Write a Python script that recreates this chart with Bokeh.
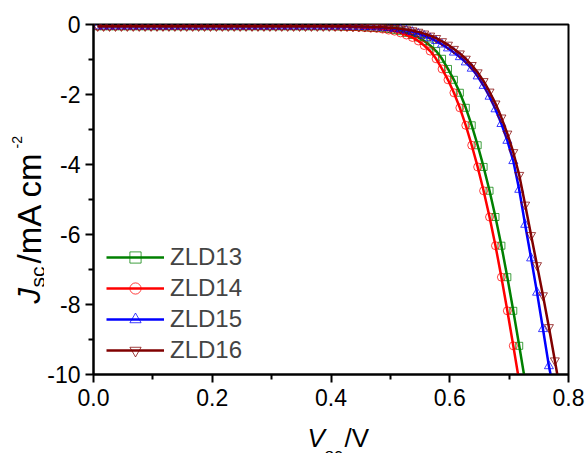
from math import pi
from bokeh.plotting import figure
from bokeh.layouts import column, row
from bokeh.models import Range1d, FixedTicker, Label, Legend, LegendItem
from bokeh.embed import file_html
from bokeh.resources import INLINE

# ---------------- data ----------------
voltage = [0.007, 0.017, 0.027, 0.037, 0.047, 0.057, 0.067, 0.077, 0.087, 0.097,
           0.107, 0.117, 0.127, 0.137, 0.147, 0.157, 0.167, 0.177, 0.187, 0.197,
           0.207, 0.217, 0.227, 0.237, 0.247, 0.257, 0.267, 0.277, 0.287, 0.297,
           0.307, 0.317, 0.327, 0.337, 0.347, 0.357, 0.367, 0.377, 0.387, 0.397,
           0.407, 0.417, 0.427, 0.437, 0.447, 0.457, 0.467, 0.477, 0.487, 0.497,
           0.507, 0.517, 0.527, 0.537, 0.547, 0.557, 0.567, 0.577, 0.587, 0.597,
           0.607, 0.617, 0.627, 0.637, 0.647, 0.657, 0.667, 0.677, 0.687, 0.697,
           0.707, 0.717, 0.727, 0.737, 0.747, 0.757, 0.767, 0.777, 0.787]

series_names = ["ZLD13", "ZLD14", "ZLD15", "ZLD16"]

flat = [-0.05] * 39

j_zld14 = flat + [-0.05, -0.06, -0.06, -0.07, -0.07, -0.08, -0.09, -0.10, -0.11,
                  -0.13, -0.16, -0.19, -0.24, -0.30, -0.37, -0.47, -0.60, -0.76,
                  -0.98, -1.27, -1.58, -1.95, -2.38, -2.88, -3.45, -4.07, -4.75,
                  -5.50, -6.32, -7.22, -8.18, -9.18, -10.20]

j_zld13 = flat + [-0.05, -0.05, -0.06, -0.06, -0.07, -0.07, -0.08, -0.09, -0.10,
                  -0.11, -0.13, -0.16, -0.19, -0.24, -0.30, -0.37, -0.47, -0.60,
                  -0.76, -0.98, -1.27, -1.58, -1.95, -2.38, -2.88, -3.45, -4.07,
                  -4.75, -5.50, -6.32, -7.22, -8.18, -9.18, -10.20]

j_zld15 = flat + [-0.05, -0.05, -0.05, -0.06, -0.06, -0.06, -0.07, -0.07, -0.08,
                  -0.09, -0.10, -0.12, -0.14, -0.17, -0.21, -0.26, -0.32, -0.39,
                  -0.47, -0.57, -0.68, -0.80, -0.93, -1.08, -1.26, -1.48, -1.75,
                  -2.06, -2.42, -2.84, -3.32, -3.90, -4.72, -5.72, -6.68, -7.66,
                  -8.70, -9.76, -10.60]

j_zld16 = flat + [-0.05, -0.05, -0.05, -0.05, -0.06, -0.06, -0.06, -0.07, -0.07,
                  -0.08, -0.09, -0.10, -0.12, -0.14, -0.17, -0.21, -0.26, -0.32,
                  -0.39, -0.48, -0.58, -0.70, -0.83, -0.98, -1.16, -1.37, -1.62,
                  -1.92, -2.26, -2.66, -3.12, -3.65, -4.30, -5.15, -6.02, -6.88,
                  -7.74, -8.65, -9.60, -10.56]

x_ticks = [0.0, 0.2, 0.4, 0.6, 0.8]
x_tick_labels = ["0.0", "0.2", "0.4", "0.6", "0.8"]
x_minor = [0.1, 0.3, 0.5, 0.7]
y_ticks = [0, -2, -4, -6, -8, -10]
y_tick_labels = ["0", "-2", "-4", "-6", "-8", "-10"]
y_minor = [-1, -3, -5, -7, -9]

# ---------------- styling ----------------
FONT = "Liberation Sans"
series_j = [j_zld13, j_zld14, j_zld15, j_zld16]
line_colors = ["#008000", "#ff0000", "#0000ff", "#800000"]
markers = ["square", "circle", "triangle", "inverted_triangle"]
marker_sizes = [7, 8, 9, 9]

YLAB_W = 44
MAIN_W = 587 - YLAB_W
MAIN_H = 415
XLAB_H = 453 - MAIN_H

p = figure(width=MAIN_W, height=MAIN_H, output_backend="svg", toolbar_location=None,
           x_range=Range1d(0, 0.8), y_range=Range1d(-10, 0),
           min_border_left=49, min_border_right=19, min_border_top=24,
           min_border_bottom=41)
p.title.visible = False
p.background_fill_color = "white"
p.border_fill_color = "white"
p.xgrid.visible = False
p.ygrid.visible = False
p.outline_line_color = "black"
p.outline_line_width = 2

for ax, ticks, minor, labels, standoff in [
        (p.xaxis[0], x_ticks, x_minor, x_tick_labels, 6),
        (p.yaxis[0], y_ticks, y_minor, y_tick_labels, 5)]:
    ax.ticker = FixedTicker(ticks=ticks, minor_ticks=minor)
    ax.major_label_overrides = {t: l for t, l in zip(ticks, labels)}
    ax.axis_line_width = 2
    ax.axis_line_color = "black"
    ax.major_tick_line_width = 2
    ax.minor_tick_line_width = 2
    ax.major_tick_in = 0
    ax.major_tick_out = 8
    ax.minor_tick_in = 0
    ax.minor_tick_out = 5
    ax.major_label_text_font = FONT
    ax.major_label_text_font_size = "23px"
    ax.major_label_text_color = "black"
    ax.major_label_standoff = standoff

items = []
for name, js, col, mk, ms in zip(series_names, series_j, line_colors, markers, marker_sizes):
    xs = voltage[:len(js)]
    lr = p.line(xs, js, line_color=col, line_width=2.5)
    sr = p.scatter(xs, js, marker=mk, size=ms, fill_color=None,
                   line_color=col, line_width=1, line_alpha=0.75)
    items.append(LegendItem(label=name, renderers=[lr, sr]))

legend = Legend(items=items, location=(13, 10), padding=0, margin=0, spacing=3,
                glyph_width=58, glyph_height=28, label_height=28, label_standoff=6,
                label_text_font=FONT, label_text_font_size="24px",
                border_line_color=None, background_fill_alpha=0)
p.add_layout(legend)


# ---------------- axis titles in their own text panels ----------------
def text_panel(w, h):
    f = figure(width=w, height=h, output_backend="svg", toolbar_location=None,
               x_range=Range1d(0, 1), y_range=Range1d(0, 1),
               x_axis_location=None, y_axis_location=None,
               min_border=0, min_border_left=0, min_border_right=0,
               min_border_top=0, min_border_bottom=0)
    f.grid.visible = False
    f.title.visible = False
    f.outline_line_color = None
    f.background_fill_color = "white"
    f.border_fill_color = "white"
    return f


def add_text(f, text, x, y, size, style="normal", angle=0.0):
    f.add_layout(Label(x=x, y=y, x_units="screen", y_units="screen", text=text,
                       text_font=FONT, text_font_size=size, text_font_style=style,
                       text_color="black", text_align="left",
                       text_baseline="alphabetic", angle=angle))


ylab = text_panel(YLAB_W, MAIN_H)
# J_sc /mA cm^-2 (rotated, reading upwards)
add_text(ylab, "J", 29, 71, "31px", "italic", pi / 2)
add_text(ylab, "sc", 37, 87, "21px", "normal", pi / 2)
add_text(ylab, "/mA cm", 29, 111, "33px", "normal", pi / 2)
add_text(ylab, "-2", 16, 226, "14px", "normal", pi / 2)

xlab = text_panel(587, XLAB_H)
# V_oc /V
add_text(xlab, "V", 307, 16, "26px", "italic")
add_text(xlab, "oc", 324, -1, "17px")
add_text(xlab, "/V", 344, 16, "26px")

layout = column(row(ylab, p, spacing=0), xlab, spacing=0)
open("out.html", "w").write(file_html(layout, INLINE))
